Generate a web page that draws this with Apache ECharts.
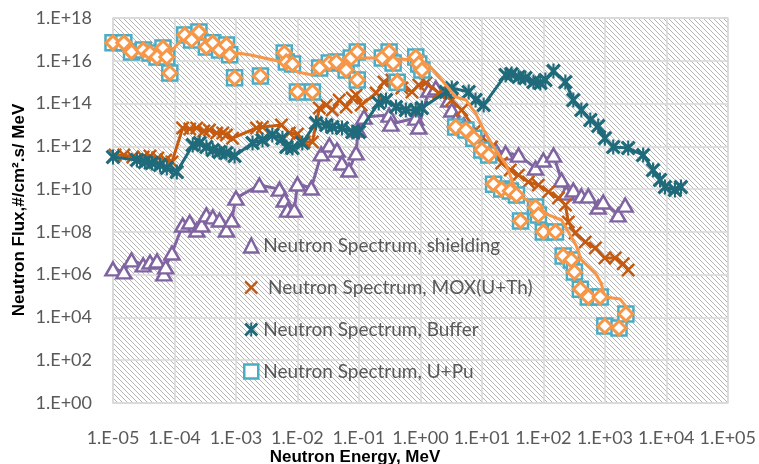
<!DOCTYPE html>
<html><head><meta charset="utf-8">
<script src="https://cdn.jsdelivr.net/npm/echarts@6/dist/echarts.min.js"></script>
<style>html,body{margin:0;padding:0;background:#fff}#c{width:759px;height:464px}</style>
</head><body><div id="c"></div>
<script>
const xTickLabels = ['1.E-05','1.E-04','1.E-03','1.E-02','1.E-01','1.E+00','1.E+01','1.E+02','1.E+03','1.E+04','1.E+05'];
const yTickLabels = ['1.E+00','1.E+02','1.E+04','1.E+06','1.E+08','1.E+10','1.E+12','1.E+14','1.E+16','1.E+18'];
const seriesNames = ['Neutron Spectrum, shielding',' Neutron Spectrum, MOX(U+Th)','Neutron Spectrum, Buffer','Neutron Spectrum, U+Pu'];

const shielding = [[1.0e-5,1.85e6],[1.5e-5,1.34e6],[2.0e-5,4.9e6],[3.1e-5,2.85e6],[4.0e-5,3.9e6],[5.2e-5,4.4e6],[6.7e-5,1.08e6],[7.2e-5,2.3e6],[9.1e-5,1.03e7],[1.36e-4,2.1e8],[1.77e-4,2.9e8],[2.3e-4,1.23e8],[2.77e-4,2.1e8],[3.3e-4,6.2e8],[4.2e-4,5.0e8],[5.4e-4,3.6e8],[7.0e-4,1.23e8],[8.5e-4,3.6e8],[1.0e-3,3.8e9],[2.4e-3,1.56e10],[5.1e-3,1.0e10],[6.1e-3,3.1e9],[6.9e-3,1.05e9],[8.9e-3,1.05e9],[1.0e-2,1.73e10],[1.68e-2,1.13e10],[2.44e-2,4.4e11],[3.3e-2,1.15e12],[4.4e-2,6.7e11],[5.3e-2,1.66e11],[6.9e-2,7.8e10],[9.0e-2,4.9e11],[9.7e-2,5.8e12],[1.21e-1,2.34e13],[3.1e-1,2.9e13],[3.3e-1,1.1e13],[8.4e-1,2.1e13],[9.4e-1,8.0e12],[1.37,4.3e14],[1.78,5.4e14],[2.9,1.47e14],[3.24,5.0e13],[3.75,1.7e13],[5.1,9.9e12],[7.9,2.4e12],[11.5,1.97e12],[16.7,6.7e11],[24.3,4.9e11],[39.5,3.9e11],[74.5,9.7e10],[100,2.3e11],[146,3.9e11],[197,2.66e10],[237,6.6e9],[307,9.1e9],[415,4.8e9],[540,4.8e9],[780,1.46e9],[940,2.5e9],[1650,6.2e8],[2140,1.8e9]];

const mox = [[1.08e-5,3.9e11],[1.5e-5,3.9e11],[2.1e-5,3.2e11],[3.1e-5,3.2e11],[4.0e-5,3.5e11],[5.35e-5,2.85e11],[7.2e-5,2.3e11],[9.1e-5,1.85e11],[1.36e-4,7.2e12],[1.77e-4,6.4e12],[2.3e-4,7.2e12],[3.0e-4,5.2e12],[3.7e-4,5.8e12],[4.85e-4,4.2e12],[6.1e-4,4.2e12],[7.0e-4,3.4e12],[8.8e-4,2.4e12],[2.16e-3,7.2e12],[2.7e-3,8.0e12],[5.5e-3,1.0e13],[7.4e-3,4.2e12],[1.0e-2,3.8e12],[1.29e-2,1.6e12],[1.75e-2,1.6e12],[2.27e-2,6.2e13],[2.94e-2,8.5e13],[3.7e-2,5.0e13],[4.78e-2,1.47e14],[6.2e-2,6.9e13],[7.8e-2,1.83e14],[9.0e-2,2.5e14],[1.09e-1,8.5e13],[1.9e-1,3.1e14],[2.56e-1,1.02e15],[3.45e-1,1.27e15],[5.0e-1,5.4e14],[7.3e-1,3.5e14],[9.4e-1,7.4e14],[1.23,9.2e14],[2.0,3.1e14],[3.24,1.47e14],[4.7,5.0e13],[7.9,5.8e12],[14.4,9.3e11],[21,1.66e11],[29,7.8e10],[39.5,4.6e10],[57,2.15e10],[83,1.56e10],[121,7.3e9],[176,3.8e9],[228,1.8e9],[255,2.9e8],[330,8.9e7],[480,3.4e7],[700,1.77e7],[1000,6.0e6],[1470,6.0e6],[1990,3.2e6],[2400,1.66e6]];

const buffer = [[1.0e-5,3.2e11],[2.45e-5,2.3e11],[3.3e-5,1.85e11],[4.3e-5,1.66e11],[5.8e-5,1.34e11],[7.5e-5,9.7e10],[1.09e-4,6.3e10],[1.98e-4,1.15e12],[2.57e-4,1.43e12],[3.3e-4,9.3e11],[4.2e-4,6.8e11],[5.4e-4,5.4e11],[7.0e-4,4.9e11],[9.5e-4,3.5e11],[1.86e-3,1.43e12],[2.7e-3,1.97e12],[3.9e-3,3.4e12],[5.7e-3,2.4e12],[6.6e-3,9.3e11],[8.3e-3,8.3e11],[1.2e-2,1.43e12],[2.0e-2,1.23e13],[2.94e-2,9.9e12],[3.7e-2,8.0e12],[5.3e-2,7.2e12],[7.8e-2,4.7e12],[1.0e-1,4.7e12],[2.1e-1,1.07e14],[2.76e-1,1.47e14],[4.0e-1,6.9e13],[5.8e-1,5.0e13],[8.4e-1,5.0e13],[1.06,6.2e13],[2.6,3.5e14],[3.24,5.4e14],[6.1,3.5e14],[7.9,1.47e14],[10.7,8.5e13],[24.3,2.17e15],[30.4,2.4e15],[39.5,1.75e15],[51,1.57e15],[69,1.02e15],[89.5,9.2e14],[108,1.27e15],[146,3.3e15],[228,1.02e15],[307,1.47e14],[415,5.0e13],[580,1.7e13],[780,8.9e12],[1000,2.4e12],[1370,9.3e11],[2400,8.3e11],[4200,3.9e11],[6100,7.8e10],[7900,2.66e10],[9500,1.25e10],[13800,9.1e9],[17300,1.25e10]];

const uPu = [[1.0e-5,6.9e16],[1.5e-5,6.9e16],[2.0e-5,2.6e16],[3.1e-5,3.2e16],[4.0e-5,2.3e16],[5.2e-5,1.5e16],[6.5e-5,4.0e16],[7.5e-5,1.5e16],[8.4e-5,2.7e15],[1.47e-4,1.6e17],[1.9e-4,9.4e16],[2.5e-4,2.2e17],[3.3e-4,4.4e16],[4.2e-4,6.9e16],[5.4e-4,3.2e16],[7.0e-4,5.5e16],[7.9e-4,1.9e16],[9.5e-4,1.6e15],[2.5e-3,1.95e15],[6.1e-3,2.3e16],[6.6e-3,8.8e15],[8.3e-3,7.1e15],[1.0e-2,3.5e14],[1.75e-2,3.5e14],[2.3e-2,4.6e15],[3.3e-2,7.9e15],[4.3e-2,8.8e15],[6.2e-2,3.7e15],[7.5e-2,1.35e16],[9.4e-2,2.6e16],[9.4e-2,1.27e15],[2.4e-1,1.35e16],[3.1e-1,2.6e16],[3.6e-1,7.9e15],[4.2e-1,1.0e15],[8.4e-1,1.5e16],[9.4e-1,7.1e15],[1.06,3.7e15],[3.75,8.0e12],[5.5,5.8e12],[7.4,2.4e12],[10,6.8e11],[12.9,3.9e11],[15.5,1.7e10],[21,1.0e10],[29,8.2e9],[36.5,5.3e9],[42.5,3.2e8],[74.5,1.46e9],[83,6.2e8],[100,1.0e8],[157,1.0e8],[210,7.5e6],[285,4.9e6],[320,1.34e6],[400,2.1e5],[540,9.0e4],[840,9.0e4],[1000,4.0e3],[1700,3.2e3],[2200,1.44e4]];

const uPuTrend = [[1.0e-5,6.9e16],[1.5e-5,5.5e16],[2.0e-5,3.2e16],[3.1e-5,2.9e16],[4.0e-5,2.3e16],[5.2e-5,1.9e16],[7.5e-5,1.5e16],[1.09e-4,5.5e16],[1.47e-4,1.44e17],[2.5e-4,1.6e17],[3.3e-4,7.6e16],[5.4e-4,4.4e16],[7.9e-4,2.6e16],[1.66e-3,1.9e16],[5.7e-3,8.8e15],[1.0e-2,3.0e15],[1.75e-2,2.17e15],[2.44e-2,5.1e15],[4.3e-2,8.8e15],[6.9e-2,1.09e16],[1.0e-1,1.35e16],[2.4e-1,1.35e16],[8.4e-1,1.09e16],[1.37,6.4e15],[2.23,1.27e15],[3.75,2.04e14],[5.5,1.47e14],[7.9,3.6e13],[10.7,5.8e12],[16.7,6.8e11],[25,1.34e11],[33,1.56e10],[39.5,5.3e9],[74.5,1.8e9],[121,6.2e8],[197,3.6e8],[255,1.0e8],[340,2.4e7],[415,4.9e6],[700,1.2e6],[870,4.1e5],[1000,9.0e4],[1770,7.2e4],[2600,1.8e4]];

const purple = '#8064A2', brown = '#C55A11', teal = '#1F6B7B', cyan = '#4BACC6', orange = '#F79646';
const xPath = 'path://M0,2.5 L2.5,0 L10,7.5 L17.5,0 L20,2.5 L12.5,10 L20,17.5 L17.5,20 L10,12.5 L2.5,20 L0,17.5 L7.5,10 Z';
const starPath = 'path://M0,3 L3,0 L10,7 L17,0 L20,3 L13,10 L20,17 L17,20 L10,13 L3,20 L0,17 L7,10 Z M8.6,0 L11.4,0 L11.4,20 L8.6,20 Z';

function hatch() {
  const s = 5, c = document.createElement('canvas');
  c.width = s; c.height = s;
  const g = c.getContext('2d');
  g.fillStyle = '#ffffff'; g.fillRect(0, 0, s, s);
  g.strokeStyle = '#b4b4b4'; g.lineWidth = 1;
  g.beginPath();
  [-s, 0, s].forEach(k => { g.moveTo(k - 1, -1); g.lineTo(k + s + 1, s + 1); });
  g.stroke();
  return c;
}

const chart = echarts.init(document.getElementById('c'), null, {renderer: 'canvas'});
const tickFont = {fontFamily: 'Lato', fontSize: 18, color: '#595959'};
chart.setOption({
  animation: false,
  backgroundColor: '#ffffff',
  grid: {left: 113, right: 28, top: 18, bottom: 61, show: true,
         backgroundColor: {image: hatch(), repeat: 'repeat'},
         borderColor: '#D9D9D9', borderWidth: 1.5, containLabel: false},
  xAxis: {type: 'log', logBase: 10, min: 1e-5, max: 1e5, interval: 1,
    axisLine: {show: false}, axisTick: {show: false},
    splitLine: {show: true, lineStyle: {color: '#D9D9D9', width: 1.5}},
    axisLabel: Object.assign({margin: 26, formatter: v => xTickLabels[Math.round(Math.log10(v)) + 5]}, tickFont)},
  yAxis: {type: 'log', logBase: 10, min: 1, max: 1e18, interval: 2,
    axisLine: {show: false}, axisTick: {show: false},
    splitLine: {show: true, lineStyle: {color: '#D9D9D9', width: 1.5}},
    axisLabel: Object.assign({margin: 21, formatter: v => yTickLabels[Math.round(Math.log10(v) / 2)]}, tickFont)},
  legend: {orient: 'vertical', left: 238, top: 231, itemGap: 23, itemWidth: 14, itemHeight: 14,
    textStyle: {fontFamily: 'Lato', fontSize: 19, color: '#595959'},
    data: [
      {name: seriesNames[0], icon: 'triangle', itemStyle: {color: '#fff', borderColor: purple, borderWidth: 2.5}},
      {name: seriesNames[1], icon: xPath, itemStyle: {color: brown, borderWidth: 0}},
      {name: seriesNames[2], icon: starPath, itemStyle: {color: teal, borderWidth: 0}},
      {name: seriesNames[3], icon: 'rect', itemStyle: {color: '#fff', borderColor: cyan, borderWidth: 2.5}}
    ]},
  graphic: [
    {type: 'text', x: 19, y: 210, rotation: Math.PI / 2,
     style: {text: 'Neutron Flux,#/cm².s/ MeV', font: 'bold 17px "Liberation Sans", Arial, sans-serif', fill: '#000', align: 'center', verticalAlign: 'middle'}},
    {type: 'text', x: 355, y: 457,
     style: {text: 'Neutron Energy, MeV', font: 'bold 17px "Liberation Sans", Arial, sans-serif', fill: '#000', align: 'center', verticalAlign: 'middle'}}
  ],
  series: [
    {name: seriesNames[0], type: 'line', data: shielding, symbol: 'triangle', symbolSize: [15, 13], z: 2,
     itemStyle: {color: '#fff', borderColor: purple, borderWidth: 2.5}, lineStyle: {color: purple, width: 3}},
    {name: seriesNames[1], type: 'line', data: mox, symbol: xPath, symbolSize: 14, z: 3,
     itemStyle: {color: brown, borderWidth: 0}, lineStyle: {color: brown, width: 3}},
    {name: seriesNames[2], type: 'line', data: buffer, symbol: starPath, symbolSize: 15, z: 4,
     itemStyle: {color: teal, borderWidth: 0}, lineStyle: {color: teal, width: 3}},
    {name: seriesNames[3], type: 'scatter', data: uPu, symbol: 'rect', symbolSize: 15, z: 5,
     itemStyle: {color: '#fff', borderColor: cyan, borderWidth: 2.5, opacity: 1}},
    {name: 'U+Pu markers', type: 'scatter', data: uPu, symbol: 'diamond', symbolSize: 14, z: 6,
     itemStyle: {color: '#fff', borderColor: orange, borderWidth: 3, opacity: 1}},
    {name: 'U+Pu trend', type: 'line', data: uPuTrend, showSymbol: false, symbol: 'none', z: 6,
     lineStyle: {color: orange, width: 3}}
  ]
});
</script></body></html>
